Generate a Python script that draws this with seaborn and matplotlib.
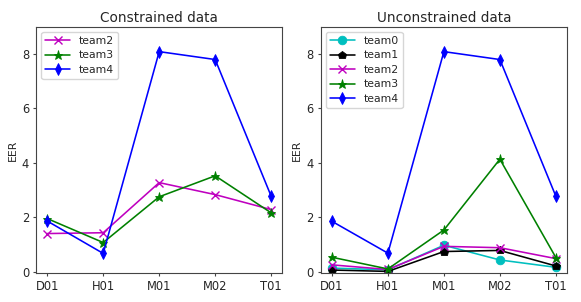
import matplotlib
matplotlib.use("Agg")
import matplotlib.pyplot as plt
import seaborn as sns
import pandas as pd

sns.set_style("white")
plt.rcParams['font.family'] = ['DejaVu Sans']

categories = ["D01", "H01", "M01", "M02", "T01"]

# Constrained data
con_team2 = [1.40, 1.43, 3.27, 2.83, 2.28]
con_team3 = [1.95, 1.07, 2.75, 3.52, 2.16]
con_team4 = [1.86, 0.67, 8.08, 7.79, 2.77]

# Unconstrained data
unc_team0 = [0.13, 0.07, 0.97, 0.43, 0.16]
unc_team1 = [0.06, 0.01, 0.74, 0.78, 0.21]
unc_team2 = [0.25, 0.08, 0.93, 0.88, 0.48]
unc_team3 = [0.53, 0.10, 1.53, 4.13, 0.52]
unc_team4 = [1.85, 0.68, 8.08, 7.79, 2.77]

styles = {
    "team0": dict(color="c", marker="o", ms=6.2),
    "team1": dict(color="k", marker="p", ms=6.2),
    "team2": dict(color="m", marker="x", ms=6.2),
    "team3": dict(color="g", marker="*", ms=6.8),
    "team4": dict(color="b", marker="d", ms=5.8),
}

fig = plt.figure(figsize=(5.81, 3.02), dpi=100)
ax1 = fig.add_axes([0.062, 0.095, 0.424, 0.817])
ax2 = fig.add_axes([0.552, 0.095, 0.424, 0.817])

panels = [
    (ax1, "Constrained data", {"team2": con_team2, "team3": con_team3, "team4": con_team4}),
    (ax2, "Unconstrained data", {"team0": unc_team0, "team1": unc_team1, "team2": unc_team2,
                                 "team3": unc_team3, "team4": unc_team4}),
]

for ax, title, series in panels:
    for name, vals in series.items():
        df = pd.DataFrame({"cat": categories, "EER": vals})
        st = styles[name]
        sns.lineplot(data=df, x="cat", y="EER", ax=ax, sort=False, label=name,
                     color=st["color"], marker=st["marker"], markersize=st["ms"],
                     markeredgecolor=st["color"],
                     markeredgewidth=1.0 if st["marker"] == "x" else 0.6,
                     linewidth=1.15)
    ax.set_title(title, fontsize=9.8, pad=3.5)
    ax.set_xlabel("")
    ax.set_ylabel("EER", fontsize=7.8, labelpad=3)
    ax.set_ylim(-0.06, 9.0)
    ax.set_yticks([0, 2, 4, 6, 8])
    ax.tick_params(axis="both", labelsize=8.3, length=2.5, width=0.8, direction="out",
                   bottom=True, left=True, pad=2.5, color="#444444")
    for sp in ax.spines.values():
        sp.set_color("#444444")
        sp.set_linewidth(0.8)
    ax.legend(loc="upper left", fontsize=7.8, frameon=True, handlelength=2.3,
              borderpad=0.35, labelspacing=0.42, handletextpad=0.8, borderaxespad=0.5)

fig.savefig("out.png", dpi=100)
